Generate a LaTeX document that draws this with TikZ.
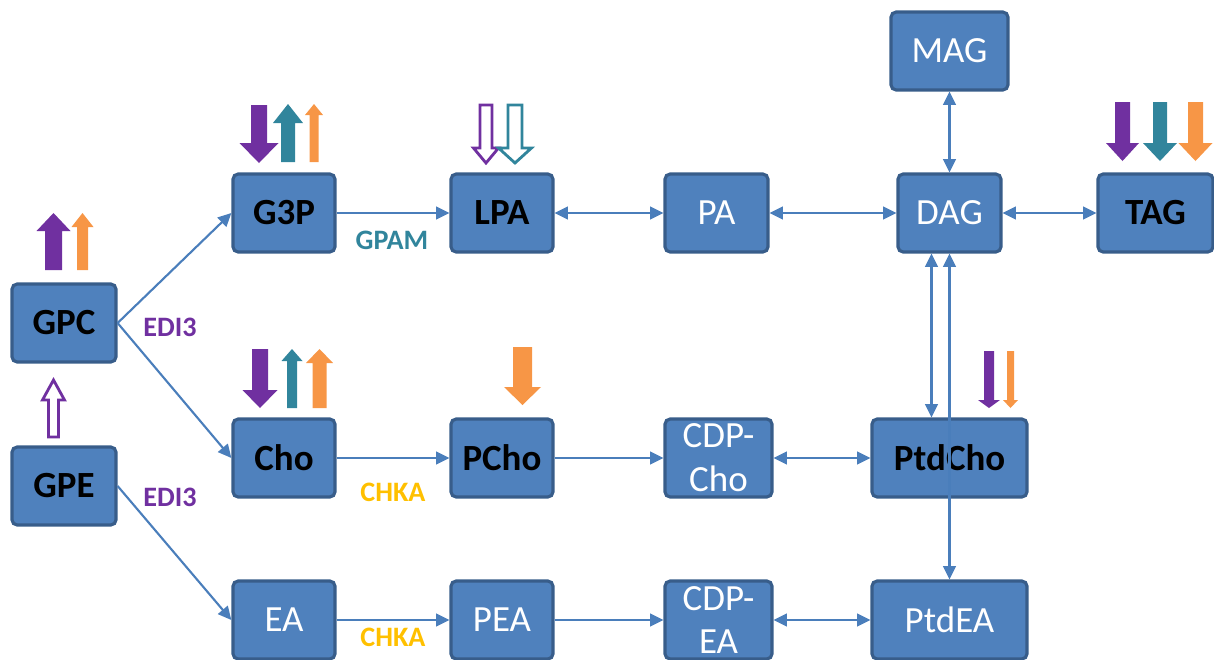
\documentclass[tikz,border=0pt]{standalone}
\usepackage{fontspec}
\setmainfont{Carlito}
\usetikzlibrary{arrows.meta}

\definecolor{boxblue}{HTML}{4F81BD}
\definecolor{boxedge}{HTML}{385D8A}
\definecolor{linkblue}{HTML}{4A7EBB}
\definecolor{edipurple}{HTML}{7030A0}
\definecolor{gpamteal}{HTML}{31859C}
\definecolor{uporange}{HTML}{F79646}
\definecolor{chkagold}{HTML}{FFC000}

% block arrow: [style]{cx}{tail y}{head base y}{tip y}{half shaft}{half head}
\newcommand{\blkarr}[7][]{%
  \draw[#1] ({#2-#6},#3) -- ({#2+#6},#3) -- ({#2+#6},#4) -- ({#2+#7},#4)
    -- (#2,#5) -- ({#2-#7},#4) -- ({#2-#6},#4) -- cycle;}

\begin{document}
\begin{tikzpicture}[x=0.01cm, y=-0.01cm,
  every node/.style={font=\fontsize{10.5}{12.5}\selectfont},
  box/.style={draw=boxedge, fill=boxblue, line width=0.9pt, rounded corners=1.5pt,
    minimum height=0.78cm, inner sep=0pt, align=center},
  boldbox/.style={box, font=\fontsize{10.5}{12.5}\selectfont\bfseries},
  plainbox/.style={box, text=white},
  link/.style={draw=linkblue, line width=0.6pt, -{Triangle[length=3.8pt,width=3.6pt]}},
  bilink/.style={link, {Triangle[length=3.8pt,width=3.6pt]}-{Triangle[length=3.8pt,width=3.6pt]}},
  enzyme/.style={font=\fontsize{8}{9.5}\selectfont\bfseries},
  fillarr/.style={fill=#1, draw=none},
  openarr/.style={draw=#1, fill=white, line width=0.8pt}]
\useasboundingbox (0,0) rectangle (1214,660);
% top row
\node[plainbox, minimum width=1.17cm] (mag) at (949.5,51) {MAG};
\node[boldbox, minimum width=1.02cm] (g3p) at (284,213) {G3P};
\node[boldbox, minimum width=1.02cm] (lpa) at (502,213) {LPA};
\node[plainbox, minimum width=1.03cm] (pa) at (716.5,213) {PA};
\node[plainbox, minimum width=1.03cm] (dag) at (949.5,213) {DAG};
\node[boldbox, minimum width=1.15cm] (tag) at (1155.5,213) {TAG};
% left column
\node[boldbox, minimum width=1.04cm] (gpc) at (64,323) {GPC};
\node[boldbox, minimum width=1.04cm] (gpe) at (64,486) {GPE};
% choline row
\node[boldbox, minimum width=1.02cm] (cho) at (284,458) {Cho};
\node[boldbox, minimum width=1.02cm] (pcho) at (502,458) {PCho};
\node[plainbox, minimum width=1.07cm] (cdpcho) at (718.5,458) {CDP-\\Cho};
\node[boldbox, minimum width=1.55cm] (ptdcho) at (949.5,458) {PtdCho};
% ethanolamine row
\node[plainbox, minimum width=1.02cm] (ea) at (284,620) {EA};
\node[plainbox, minimum width=1.02cm] (pea) at (502,620) {PEA};
\node[plainbox, minimum width=1.07cm] (cdpea) at (718.5,620) {CDP-\\EA};
\node[plainbox, minimum width=1.55cm] (ptdea) at (949.5,620) {PtdEA};
% connectors
\draw[link] (gpc.east) -- (g3p.west);
\draw[link] (gpc.east) -- (cho.west);
\draw[link] (gpe.east) -- (ea.west);
\draw[link] (g3p) -- (lpa);
\draw[bilink] (lpa) -- (pa);
\draw[bilink] (pa) -- (dag);
\draw[bilink] (dag) -- (tag);
\draw[bilink] (mag) -- (dag);
\draw[bilink] ([xshift=-0.18cm]dag.south) -- ([xshift=-0.18cm]ptdcho.north);
\draw[bilink] (dag.south) -- (ptdea.north);
\draw[link] (cho) -- (pcho);
\draw[link] (pcho) -- (cdpcho);
\draw[bilink] (cdpcho) -- (ptdcho);
\draw[link] (ea) -- (pea);
\draw[link] (pea) -- (cdpea);
\draw[bilink] (cdpea) -- (ptdea);
% enzymes
\node[enzyme, text=gpamteal] (gpam) at (392,240) {GPAM};
\node[enzyme, text=edipurple] (edi1) at (170,327) {EDI3};
\node[enzyme, text=edipurple] (edi2) at (170,497) {EDI3};
\node[enzyme, text=chkagold] (chka1) at (393,492) {CHKA};
\node[enzyme, text=chkagold] (chka2) at (393,637) {CHKA};
% change arrows
\blkarr[fillarr=edipurple]{259}{105}{143}{163}{8}{19.5}
\blkarr[fillarr=gpamteal]{288}{162}{123}{104}{7}{15}
\blkarr[fillarr=uporange]{314}{162}{115}{104}{4.5}{9}
\blkarr[openarr=edipurple]{486}{105}{148}{163}{6}{12.5}
\blkarr[openarr=gpamteal]{515}{105}{148}{163}{7}{16.5}
\blkarr[fillarr=edipurple]{53.5}{270}{231}{213}{8.5}{17}
\blkarr[fillarr=uporange]{82.5}{270}{227}{213}{5.5}{11}
\blkarr[openarr=edipurple]{53.5}{437}{400}{380}{5}{11}
\blkarr[fillarr=edipurple]{1122.5}{102}{143}{161}{7.5}{16.5}
\blkarr[fillarr=gpamteal]{1160}{102}{143}{161}{7}{17}
\blkarr[fillarr=uporange]{1195.5}{102}{143}{161}{7.5}{17}
\blkarr[fillarr=edipurple]{260}{349}{390}{408}{8}{17.5}
\blkarr[fillarr=gpamteal]{292}{408}{361}{349}{5}{10.5}
\blkarr[fillarr=uporange]{319.5}{408}{363}{349}{7}{13.5}
\blkarr[fillarr=uporange]{522.5}{347}{387}{405}{9.5}{18.5}
\blkarr[fillarr=edipurple]{989}{351}{400}{408}{5}{11}
\blkarr[fillarr=uporange]{1010.5}{351}{400}{408}{3.5}{7.5}
\end{tikzpicture}
\end{document}
